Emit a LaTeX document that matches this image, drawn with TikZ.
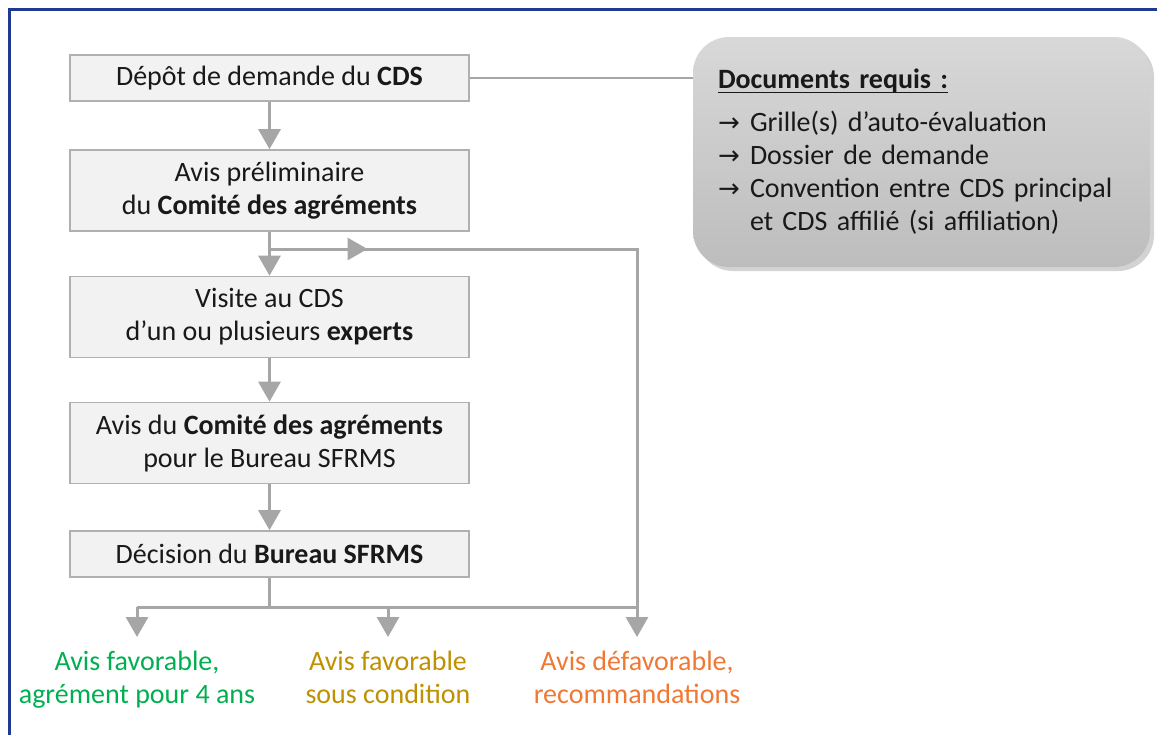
\documentclass[tikz,border=0pt]{standalone}
\usepackage{fontspec}
\setmainfont{Carlito}
\newfontfamily\arrowfont{DejaVu Sans}
\usepackage{tikz}
\usetikzlibrary{arrows.meta,shadows,decorations.markings}

\definecolor{FrameBlue}{HTML}{1F3A8F}
\definecolor{LineGray}{HTML}{A6A6A6}
\definecolor{BoxFill}{HTML}{F2F2F2}
\definecolor{BoxDraw}{HTML}{B0B0B0}
\definecolor{NoteTop}{HTML}{D8D8D8}
\definecolor{NoteBot}{HTML}{BDBDBD}
\definecolor{OkGreen}{HTML}{00B050}
\definecolor{CondGold}{HTML}{BF9000}
\definecolor{NoOrange}{HTML}{F07833}

\tikzset{
  stage/.style={draw=BoxDraw, fill=BoxFill, line width=0.8pt, minimum width=199.5pt, align=center, font=\fontsize{14}{16.5}\selectfont, text=black!90},
  flow/.style={draw=LineGray, line width=1.5pt, -{Triangle[width=11pt,length=10pt]}},
  plain/.style={draw=LineGray, line width=1.5pt},
  verdict/.style={align=center, font=\fontsize{14}{16.5}\selectfont, anchor=north, inner sep=0pt},
  note/.style={rounded corners=18pt, top color=NoteTop, bottom color=NoteBot, drop shadow={shadow xshift=2pt, shadow yshift=-2pt, opacity=0.35}, minimum width=228.5pt, minimum height=115pt, text width=203.5pt, inner xsep=12.5pt, align=left, font=\fontsize{14}{16.5}\selectfont, text=black!90}
}
\newcommand{\arr}{\makebox[16pt][l]{\arrowfont\fontsize{13}{13}\selectfont →}}
\newcommand{\uln}[1]{\leavevmode\setbox0\hbox{#1}\rlap{\rule[-2.2pt]{\wd0}{0.8pt}}\box0}

\begin{document}
\begin{tikzpicture}[x=0.5pt, y=-0.5pt]
\useasboundingbox (0,0) rectangle (1157,735);
\draw[FrameBlue, line width=1.5pt] (9,735) -- (9,9) -- (1157,9);

% etapes
\node[stage, minimum height=23pt] (B1) at (269.5,78) {Dépôt de demande du \textbf{CDS}};
\node[stage, minimum height=40.5pt] (B2) at (269.5,190.5) {Avis préliminaire\\du \textbf{Comité des agréments}};
\node[stage, minimum height=40.5pt] (B3) at (269.5,317) {Visite au CDS\\d’un ou plusieurs \textbf{experts}};
\node[stage, minimum height=40.5pt] (B4) at (269.5,443) {Avis du \textbf{Comité des agréments}\\pour le Bureau SFRMS};
\node[stage, minimum height=23pt] (B5) at (269.5,554) {Décision du \textbf{Bureau SFRMS}};

\node[note] (N) at (921.5,152) {\uln{\textbf{Documents requis :}}\\[5pt]
\arr Grille(s) d’auto-évaluation\\
\arr Dossier de demande\\
\arr Convention entre CDS principal\\
\makebox[16pt]{}et CDS affilié (si affiliation)};

% issues
\node[verdict, text=OkGreen] (V1) at (137,651) {Avis favorable,\\agrément pour 4 ans};
\node[verdict, text=CondGold] (V2) at (388,651) {Avis favorable\\sous condition};
\node[verdict, text=NoOrange] (V3) at (637,651) {Avis défavorable,\\recommandations};

\coordinate (J) at (269.5,249);
\coordinate (K) at (637,249);
\coordinate (H) at (637,607);
\coordinate (G) at (269.5,607);
\coordinate (E) at (137,607);
\coordinate (F) at (388,607);

\draw[LineGray, line width=0.8pt] (B1.east) -- (B1.east -| N.west);
\draw[flow] (B1) -- (B2);
\draw[flow] (B2) -- (B3);
\draw[flow] (B3) -- (B4);
\draw[flow] (B4) -- (B5);

\draw[plain, postaction=decorate, decoration={markings, mark=at position 49pt with {\arrow{Triangle[width=11pt,length=10pt]}}}] (J) -- (K) -- (H);
\draw[plain] (B5.south) -- (G);
\draw[plain] (E) -- (H);
\draw[flow, shorten >=7pt] (E) -- (V1.north);
\draw[flow, shorten >=7pt] (F) -- (V2.north);
\draw[flow, shorten >=7pt] (H) -- (V3.north);

\end{tikzpicture}
\end{document}
